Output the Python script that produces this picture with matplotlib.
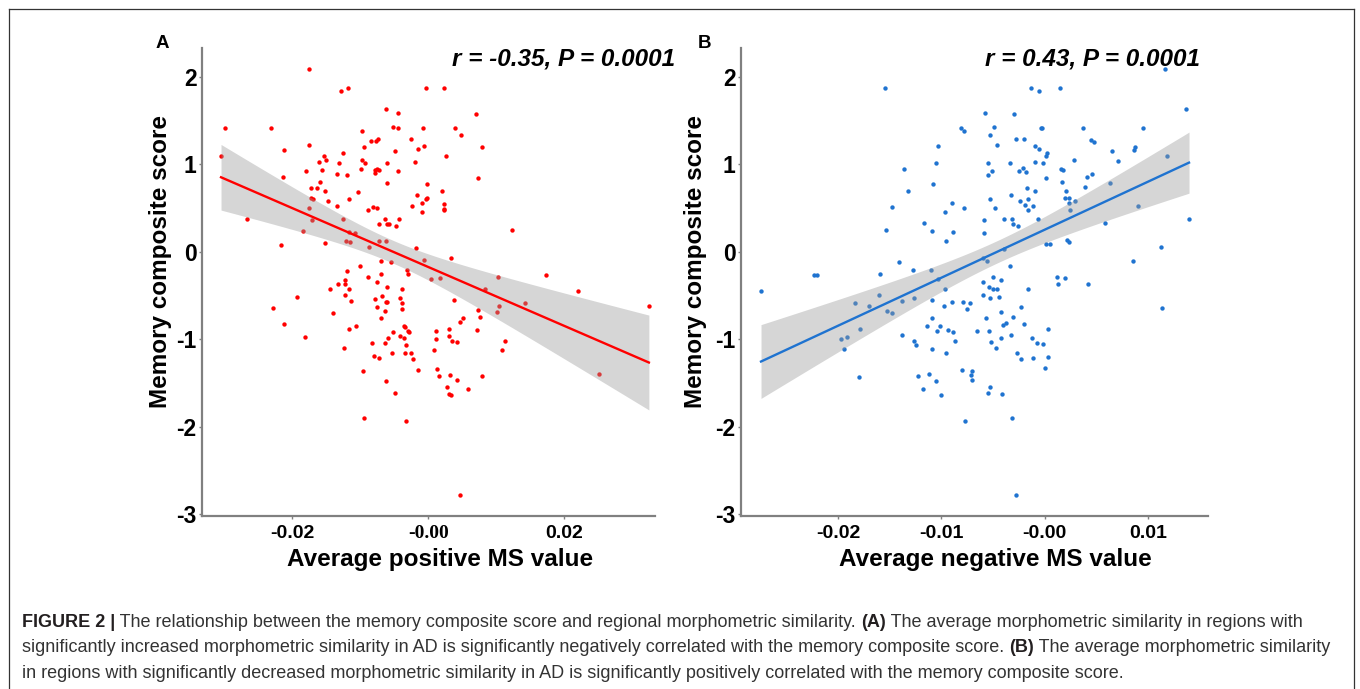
import numpy as np
import matplotlib
matplotlib.use("Agg")
import matplotlib.pyplot as plt
from matplotlib.lines import Line2D

plt.rcParams['font.family'] = ['Liberation Sans', 'DejaVu Sans']
plt.rcParams['axes.unicode_minus'] = False

# ---------------- data ----------------
# panel A : average positive MS value vs memory composite score
pos_ms = [
    -0.0305, -0.0299, -0.0232, -0.0212, -0.0213, -0.0267, -0.0217, -0.0175, -0.0175, -0.0180,
    -0.0176, -0.0172, -0.0171, -0.0172, -0.0169, -0.0184, -0.0159, -0.0160, -0.0156, -0.0153,
    -0.0150, -0.0152, -0.0148, -0.0163, -0.0152, -0.0134, -0.0134, -0.0131, -0.0128, -0.0118,
    -0.0125, -0.0119, -0.0117, -0.0126, -0.0117, -0.0108, -0.0121, -0.0115, -0.0103, -0.0098,
    -0.0099, -0.0098, -0.0093, -0.0094, -0.0084, -0.0077, -0.0074, -0.0078, -0.0075, -0.0079,
    -0.0072, -0.0062, -0.0052, -0.0044, -0.0044, -0.0049, -0.0061, -0.0045, -0.0061, -0.0089,
    -0.0081, -0.0076, -0.0073, -0.0063, -0.0061, -0.0058, -0.0048, -0.0043, -0.0073, -0.0062,
    -0.0087, -0.0026, -0.0019, -0.0015, -0.0007, -0.0006, -0.0016, -0.0024, -0.0009, -0.0009,
    -0.0002, -0.0003, -0.0001, -0.0003, 0.0024, 0.0021, 0.0023, 0.0024, 0.0023, 0.0027,
    0.0040, 0.0049, 0.0071, 0.0079, 0.0074, -0.0018, -0.0006, 0.0033, 0.0124, -0.0101,
    -0.0070, -0.0054,
    -0.0120, -0.0088, -0.0070, -0.0075, -0.0031, -0.0030, -0.0133, -0.0123, -0.0122, -0.0116,
    -0.0145, -0.0123, -0.0113, -0.0193, -0.0229, -0.0140, -0.0212, -0.0182, -0.0116, -0.0106,
    -0.0124, -0.0096, -0.0095, -0.0078, -0.0068, -0.0060, -0.0075, -0.0062, -0.0060, -0.0064,
    -0.0069, -0.0042, -0.0039, -0.0038, -0.0039, -0.0035, -0.0034, -0.0030, -0.0028, -0.0052,
    -0.0059, -0.0042, -0.0035, -0.0032, -0.0082, -0.0064, -0.0080, -0.0073, -0.0053, -0.0034,
    -0.0026, -0.0023, -0.0015, -0.0062, -0.0049, -0.0032, 0.0004, 0.0018, 0.0038, 0.0047,
    0.0051, 0.0012, 0.0031, 0.0012, 0.0030, 0.0035, 0.0043, 0.0009, 0.0013, 0.0016,
    0.0032, 0.0043, 0.0028, 0.0031, 0.0033, 0.0058, 0.0047, 0.0079, 0.0072, 0.0074,
    0.0077, 0.0083, 0.0103, 0.0105, 0.0101, 0.0113, 0.0109, 0.0143, 0.0173, 0.0220,
    0.0252, 0.0325,
]
pos_mem = [
    1.10, 1.42, 1.41, 1.16, 0.85, 0.38, 0.08, 2.09, 1.22, 0.92,
    0.50, 0.73, 0.36, 0.61, 0.60, 0.24, 0.80, 1.03, 0.94, 1.10,
    1.05, 0.70, 0.58, 0.73, 0.10, 0.52, 0.89, 1.01, 1.84, 1.87,
    1.13, 0.88, 0.60, 0.37, 0.23, 0.21, 0.12, 0.11, 0.68, 1.38,
    0.95, 1.05, 1.02, 1.20, 1.27, 1.27, 1.29, 0.94, 0.95, 0.90,
    0.94, 1.63, 1.43, 1.42, 1.59, 1.15, 1.02, 0.92, 0.79, 0.48,
    0.51, 0.50, 0.32, 0.37, 0.32, 0.32, 0.29, 0.38, 0.12, 0.12,
    0.05, 1.29, 1.03, 1.17, 1.41, 1.21, 0.65, 0.52, 0.45, 0.56,
    0.77, 0.60, 0.61, 1.87, 1.87, 0.70, 0.55, 0.49, 0.48, 1.10,
    1.41, 1.33, 1.58, 1.20, 0.84, 0.04, -0.09, -0.07, 0.25, -0.16,
    -0.11, -0.12,
    -0.22, -0.29, -0.25, -0.34, -0.21, -0.25, -0.37, -0.32, -0.37, -0.42,
    -0.43, -0.49, -0.56, -0.52, -0.64, -0.70, -0.83, -0.97, -0.88, -0.85,
    -1.10, -1.36, -1.90, -0.54, -0.50, -0.40, -0.63, -0.57, -0.57, -0.68,
    -0.76, -0.53, -0.43, -0.59, -0.65, -0.85, -0.86, -0.91, -0.92, -0.92,
    -0.98, -0.96, -0.99, -1.06, -1.04, -1.04, -1.19, -1.21, -1.16, -1.16,
    -1.16, -1.23, -1.35, -1.48, -1.61, -1.93, -0.31, -0.30, -0.55, -0.80,
    -0.76, -0.90, -0.88, -1.00, -0.96, -1.02, -1.03, -1.12, -1.34, -1.42,
    -1.41, -1.46, -1.54, -1.62, -1.64, -1.57, -2.78, -1.42, -0.89, -0.67,
    -0.75, -0.42, -0.29, -0.62, -0.69, -1.02, -1.12, -0.59, -0.27, -0.45,
    -1.40, -0.62,
]

# panel B : average negative MS value vs memory composite score
neg_ms = [
    -0.0155, -0.0154, -0.0148, -0.0141, -0.0136, -0.0132, -0.0128, -0.0117, -0.0110, -0.0108,
    -0.0109, -0.0105, -0.0103, -0.0097, -0.0096, -0.0090, -0.0089, -0.0081, -0.0078, -0.0078,
    -0.0059, -0.0059, -0.0058, -0.0055, -0.0053, -0.0049, -0.0046, -0.0051, -0.0055, -0.0053,
    -0.0048, -0.0039, -0.0060, -0.0056, -0.0039, -0.0034, -0.0034, -0.0033, -0.0032, -0.0030,
    -0.0028, -0.0025, -0.0031, -0.0026, -0.0024, -0.0020, -0.0021, -0.0018, -0.0019, -0.0016,
    -0.0017, -0.0016, -0.0013, -0.0005, -0.0009, -0.0005, -0.0004, -0.0003, -0.0002, -0.0009,
    -0.0009, -0.0011, -0.0006, 0.0001, 0.0001, 0.0002, 0.0001, 0.0005, 0.0015, 0.0016,
    0.0018, 0.0017, 0.0021, 0.0020, 0.0024, 0.0024, 0.0025, 0.0029, 0.0028, 0.0037,
    0.0045, 0.0048, 0.0039, 0.0041, 0.0046, 0.0022, 0.0024, 0.0059, 0.0063, 0.0065,
    0.0071, 0.0088, 0.0087, 0.0091, 0.0095, 0.0119, 0.0117, 0.0137, 0.0140, 0.0113,
    0.0086, -0.0224, -0.0221, -0.0160,
    -0.0275, -0.0161, -0.0184, -0.0170, -0.0138, -0.0127, -0.0153, -0.0148, -0.0109, -0.0097,
    -0.0103, -0.0098, -0.0090, -0.0079, -0.0072, -0.0075, -0.0109, -0.0114, -0.0101, -0.0104,
    -0.0094, -0.0089, -0.0179, -0.0192, -0.0197, -0.0195, -0.0138, -0.0127, -0.0125, -0.0109,
    -0.0096, -0.0087, -0.0066, -0.0060, -0.0050, -0.0042, -0.0054, -0.0050, -0.0046, -0.0060,
    -0.0053, -0.0044, -0.0042, -0.0057, -0.0054, -0.0037, -0.0031, -0.0040, -0.0042, -0.0052,
    -0.0047, -0.0033, -0.0023, -0.0016, -0.0020, -0.0027, -0.0023, -0.0012, -0.0011, -0.0007,
    -0.0002, 0.0003, 0.0003, 0.0000, 0.0012, 0.0013, 0.0020, 0.0042, 0.0114, -0.0123,
    -0.0112, -0.0118, -0.0105, -0.0100, -0.0080, -0.0070, -0.0071, -0.0070, -0.0053, -0.0055,
    -0.0041, -0.0032, -0.0077, -0.0180, -0.0028,
]
neg_mem = [
    1.87, 0.25, 0.51, -0.12, 0.95, 0.70, -0.21, 0.33, -0.21, 0.77,
    0.24, 1.02, 1.21, 0.45, 0.12, 0.56, 0.23, 1.41, 1.38, 0.50,
    0.36, 0.22, 1.59, 1.02, 1.34, 1.43, 1.22, 0.92, 0.88, 0.60,
    0.50, 0.38, -0.07, -0.10, 0.03, -0.16, 1.01, 0.65, 0.38, 1.58,
    1.29, 0.92, 0.32, 0.29, 0.58, 1.29, 0.96, 0.91, 0.53, 0.60,
    0.73, 0.48, 1.87, 1.84, 1.21, 1.18, 1.41, 1.41, 1.02, 1.03,
    0.69, 0.52, 0.38, 0.84, 1.10, 1.13, 0.09, 0.09, 1.87, 0.95,
    0.94, 0.80, 0.70, 0.62, 0.61, 0.56, 0.48, 0.58, 1.05, 1.42,
    1.28, 1.26, 0.74, 0.85, 0.89, 0.13, 0.11, 0.33, 0.79, 1.15,
    1.04, 1.20, 1.16, 0.52, 1.41, 1.10, 2.09, 1.63, 0.38, 0.05,
    -0.11, -0.27, -0.26, -0.25,
    -0.45, -0.49, -0.59, -0.62, -0.56, -0.53, -0.68, -0.70, -0.55, -0.42,
    -0.31, -0.62, -0.57, -0.57, -0.59, -0.65, -0.76, -0.85, -0.85, -0.91,
    -0.89, -0.92, -0.88, -0.97, -1.00, -1.11, -0.95, -1.02, -1.06, -1.11,
    -1.16, -1.02, -0.90, -0.34, -0.29, -0.32, -0.40, -0.43, -0.43, -0.49,
    -0.53, -0.52, -0.69, -0.76, -0.91, -0.81, -0.75, -0.84, -0.99, -1.03,
    -1.10, -0.95, -0.63, -0.42, -0.83, -1.16, -1.22, -0.98, -1.21, -1.04,
    -1.05, -0.88, -1.20, -1.33, -0.29, -0.37, -0.30, -0.37, -0.64, -1.42,
    -1.40, -1.57, -1.48, -1.64, -1.35, -1.36, -1.41, -1.46, -1.54, -1.61,
    -1.62, -1.90, -1.93, -1.43, -2.78,
]

y_ticks = [-3, -2, -1, 0, 1, 2]
a_xticks = [-0.02, 0.0, 0.02]
a_xlabels = ['-0.02', '-0.00', '0.02']
b_xticks = [-0.02, -0.01, 0.0, 0.01]
b_xlabels = ['-0.02', '-0.01', '-0.00', '0.01']

stat_a = 'r = -0.35, P = 0.0001'
stat_b = 'r = 0.43, P = 0.0001'


def lm_band(x, y, n=120):
    # least squares line with 95% confidence band (like geom_smooth(method='lm'))
    x = np.asarray(x, float)
    y = np.asarray(y, float)
    b, a = np.polyfit(x, y, 1)
    xs = np.linspace(x.min(), x.max(), n)
    ys = a + b * xs
    res = y - (a + b * x)
    s = np.sqrt(np.sum(res ** 2) / (len(x) - 2))
    se = s * np.sqrt(1.0 / len(x) + (xs - x.mean()) ** 2 / np.sum((x - x.mean()) ** 2))
    t = 1.973
    return xs, ys, ys - t * se, ys + t * se


def panel(ax, x, y, col, xlim, xticks, xlabels, xlabel, lab_x, ylab_x):
    ax.scatter(x, y, s=10, color=col, linewidths=0, zorder=2)
    xs, ys, lo, hi = lm_band(x, y)
    ax.fill_between(xs, lo, hi, color='#999999', alpha=0.4, linewidth=0, zorder=3)
    ax.plot(xs, ys, color=col, lw=1.7, zorder=4)

    ax.set_xlim(*xlim)
    ax.set_ylim(-3.02, 2.33)
    ax.set_yticks(y_ticks)
    ax.set_yticklabels([str(v) for v in y_ticks], fontsize=16.5, fontweight='bold')
    ax.set_xticks(xticks)
    ax.set_xticklabels(xlabels, fontsize=14, fontweight='bold')

    for s in ['top', 'right']:
        ax.spines[s].set_visible(False)
    for s in ['left', 'bottom']:
        ax.spines[s].set_color('#808080')
        ax.spines[s].set_linewidth(1.6)
    ax.tick_params(axis='both', length=2, width=1, color='#808080')
    ax.tick_params(axis='y', pad=2)
    ax.tick_params(axis='x', pad=4.5)

    ax.set_xlabel(xlabel, fontsize=17.5, fontweight='bold')
    ax.set_ylabel('Memory composite score', fontsize=17.5, fontweight='bold')
    ax.xaxis.set_label_coords(lab_x, -0.068)
    ax.yaxis.set_label_coords(ylab_x, 0.543)


fig = plt.figure(figsize=(13.6, 6.89), dpi=100)
W, H = 1360.0, 689.0

axA = fig.add_axes([202 / W, 1 - 516 / H, 453 / W, 468 / H])
axB = fig.add_axes([741 / W, 1 - 516 / H, 467 / W, 468 / H])

panel(axA, pos_ms, pos_mem, '#ff0000', (-0.0333, 0.0334), a_xticks, a_xlabels,
      'Average positive MS value', 0.525, -0.066)
panel(axB, neg_ms, neg_mem, '#1f73d0', (-0.02944, 0.01584), b_xticks, b_xlabels,
      'Average negative MS value', 0.544, -0.073)

# the "-0.00" label of panel A is set in a serif face
axA.get_xticklabels()[1].set_fontfamily('Liberation Serif')

fig.text(675 / W, 1 - 59 / H, stat_a, ha='right', va='center', fontsize=17.5,
         fontweight='bold', fontstyle='italic')
fig.text(1200 / W, 1 - 59 / H, stat_b, ha='right', va='center', fontsize=17.5,
         fontweight='bold', fontstyle='italic')
fig.text(162 / W, 1 - 44 / H, 'A', ha='center', va='center', fontsize=13.5, fontweight='bold')
fig.text(704 / W, 1 - 44 / H, 'B', ha='center', va='center', fontsize=13.5, fontweight='bold')

# frame round the figure
frame = dict(color='#333333', lw=0.9, transform=fig.transFigure)
fig.add_artist(Line2D([8.5 / W, 8.5 / W], [0, 1 - 8.5 / H], **frame))
fig.add_artist(Line2D([8.5 / W, 1353.5 / W], [1 - 8.5 / H, 1 - 8.5 / H], **frame))
fig.add_artist(Line2D([1353.5 / W, 1353.5 / W], [0, 1 - 8.5 / H], **frame))

# caption
caption = [
    [('FIGURE 2 |', True), (' The relationship between the memory composite score and regional '
     'morphometric similarity. ', False), ('(A)', True),
     (' The average morphometric similarity in regions with', False)],
    [('significantly increased morphometric similarity in AD is significantly negatively '
      'correlated with the memory composite score. ', False), ('(B)', True),
     (' The average morphometric similarity', False)],
    [('in regions with significantly decreased morphometric similarity in AD is significantly '
      'positively correlated with the memory composite score.', False)],
]
cap_size = 12.95
renderer = fig.canvas.get_renderer()
for i, line in enumerate(caption):
    x = 22 / W
    y = 1 - (627 + i * 25.5) / H
    for txt, bold in line:
        t = fig.text(x, y, txt, fontsize=cap_size, ha='left', va='baseline',
                     fontweight='bold' if bold else 'normal',
                     color='#231f20' if bold else '#333333')
        bb = t.get_window_extent(renderer=renderer)
        x = bb.x1 / fig.bbox.width

fig.savefig('out.png', dpi=100)
